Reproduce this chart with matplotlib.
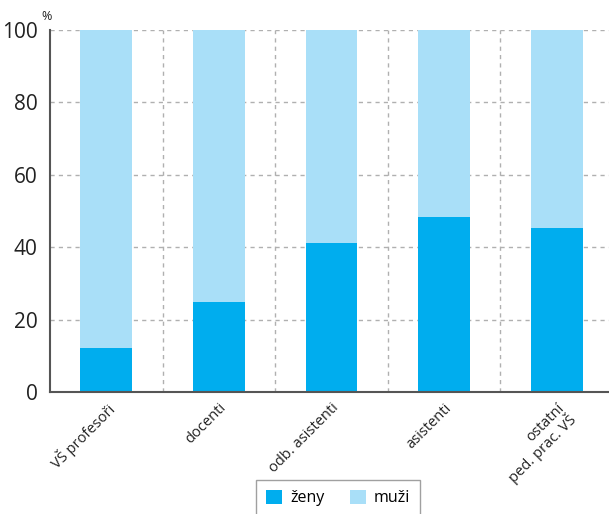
import matplotlib
matplotlib.use("Agg")
import matplotlib.pyplot as plt
import numpy as np

categories = ["VŠ profesoři", "docenti", "odb. asistenti", "asistenti", "ostatní\nped. prac. VŠ"]
zeny = [12.2, 24.9, 41.2, 48.3, 45.3]
muzi = [100 - v for v in zeny]
yticks = [0, 20, 40, 60, 80, 100]

plt.rcParams['font.family'] = ['Open Sans', 'DejaVu Sans']

fig = plt.figure(figsize=(6.09, 5.14), dpi=100)
ax = fig.add_axes([50/609, 1-392/514, 563/609, (392-30)/514])

x = np.arange(len(categories))
c_z = "#00adee"
c_m = "#a9dff8"
ax.bar(x, zeny, width=0.46, color=c_z, label="ženy", zorder=3)
ax.bar(x, muzi, width=0.46, bottom=zeny, color=c_m, label="muži", zorder=3)

ax.set_xlim(-0.5, 4.5)
ax.set_ylim(0, 100)
ax.set_yticks(yticks)
ax.set_yticklabels([str(v) for v in yticks], fontsize=15, color="#222222")
ax.tick_params(axis='y', length=0, pad=9)
ax.set_xticks(x)
ax.set_xticklabels(categories, rotation=45, ha='right', va='top', rotation_mode='anchor',
                   fontsize=10.5, color="#222222", linespacing=1.0)
ax.tick_params(axis='x', length=0, pad=6)

for yv in yticks[1:]:
    ax.axhline(yv, color="#b0b0b0", lw=1, ls=(0, (3, 3)), zorder=1)
for xv in np.arange(0.5, 4.5, 1):
    ax.axvline(xv, color="#b0b0b0", lw=1, ls=(0, (3, 3)), zorder=1)

for s in ['top', 'right']:
    ax.spines[s].set_visible(False)
for s in ['left', 'bottom']:
    ax.spines[s].set_color("#555555")
    ax.spines[s].set_linewidth(1.5)
ax.spines['bottom'].set_zorder(4)

fig.text(47/609, 1-16/514, "%", fontsize=9, ha='center', va='center', color="#222222")

leg = fig.legend(loc='lower center', bbox_to_anchor=(338/609, -10/514), ncol=2, frameon=True,
                 fontsize=11.5, handlelength=1.0, handleheight=1.0, handletextpad=0.5,
                 columnspacing=1.6, borderpad=0.6, fancybox=False)
leg.get_frame().set_edgecolor("#888888")
leg.get_frame().set_linewidth(1.0)

fig.savefig("out.png", dpi=100)
